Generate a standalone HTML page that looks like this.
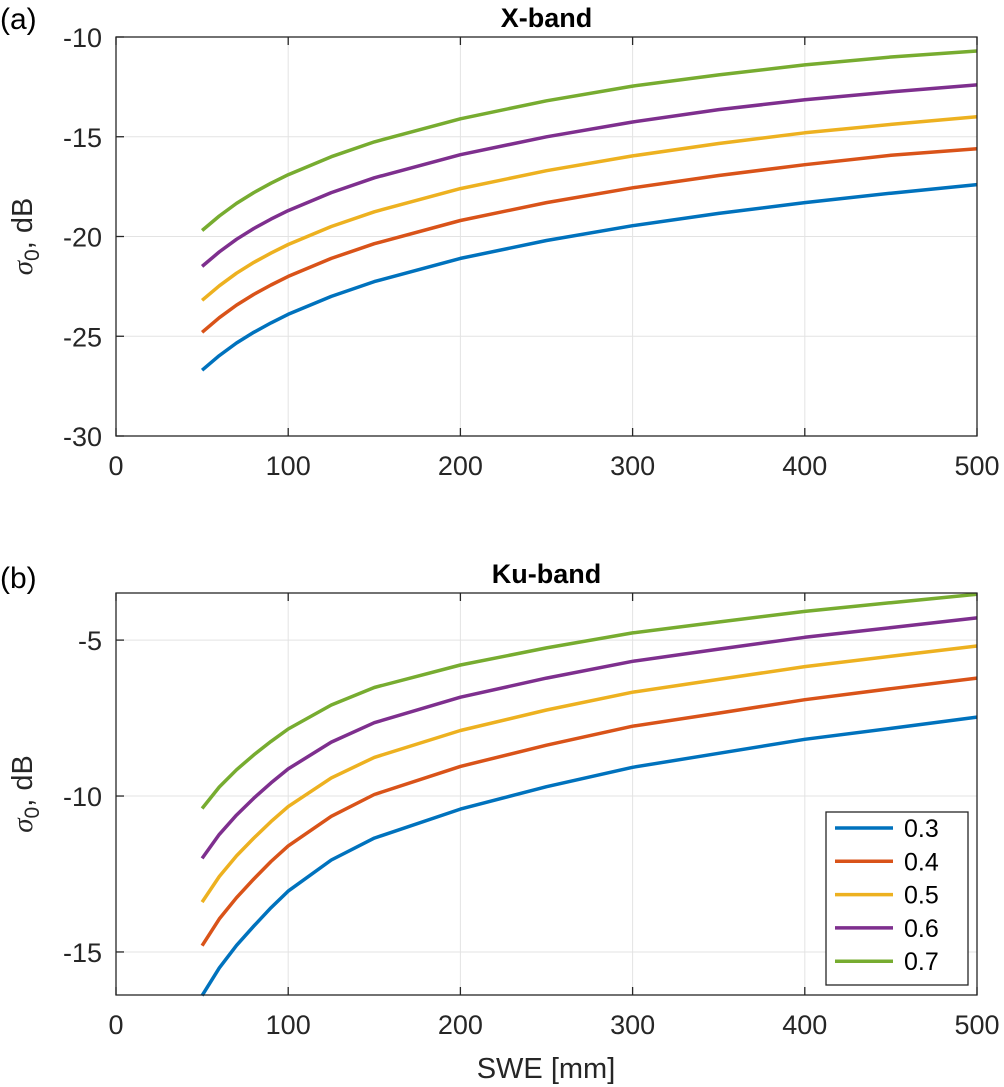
<!DOCTYPE html>
<html><head><meta charset="utf-8"><style>
body{margin:0;background:#fff}
svg{display:block;font-family:"Liberation Sans",Arial,sans-serif}
</style></head><body>
<svg id="c" width="1004" height="1087" viewBox="0 0 1004 1087"></svg>
<script>
const swe=[50,60,70,80,90,100,125,150,200,250,300,350,400,450,500];
const seriesNames=["0.3","0.4","0.5","0.6","0.7"];
const colors=["#0072BD","#D95319","#EDB120","#7E2F8E","#77AC30"];
const xband03=[-26.7,-25.97,-25.34,-24.8,-24.33,-23.9,-23.0,-22.26,-21.1,-20.2,-19.46,-18.84,-18.3,-17.83,-17.4];
const xband04=[-24.8,-24.07,-23.44,-22.9,-22.43,-22.0,-21.1,-20.36,-19.2,-18.3,-17.56,-16.94,-16.4,-15.93,-15.6];
const xband05=[-23.2,-22.47,-21.84,-21.3,-20.83,-20.4,-19.5,-18.76,-17.6,-16.7,-15.96,-15.34,-14.8,-14.38,-14.0];
const xband06=[-21.5,-20.77,-20.14,-19.6,-19.13,-18.7,-17.8,-17.06,-15.9,-15.0,-14.26,-13.64,-13.15,-12.75,-12.4];
const xband07=[-19.7,-18.97,-18.34,-17.8,-17.33,-16.9,-16.0,-15.26,-14.1,-13.2,-12.46,-11.9,-11.4,-11.0,-10.7];
const kuband03=[-16.4,-15.51,-14.79,-14.17,-13.58,-13.05,-12.05,-11.35,-10.42,-9.7,-9.08,-8.63,-8.18,-7.83,-7.47];
const kuband04=[-14.8,-13.94,-13.26,-12.66,-12.1,-11.6,-10.65,-9.95,-9.05,-8.37,-7.76,-7.34,-6.91,-6.56,-6.22];
const kuband05=[-13.4,-12.58,-11.92,-11.35,-10.82,-10.34,-9.42,-8.76,-7.9,-7.24,-6.67,-6.26,-5.85,-5.52,-5.19];
const kuband06=[-12.0,-11.23,-10.61,-10.07,-9.58,-9.13,-8.27,-7.65,-6.83,-6.22,-5.68,-5.29,-4.91,-4.6,-4.29];
const kuband07=[-10.4,-9.71,-9.16,-8.68,-8.25,-7.85,-7.08,-6.52,-5.8,-5.25,-4.77,-4.42,-4.08,-3.8,-3.53];
const xTicks=[0,100,200,300,400,500];
const yTicksX=[-30,-25,-20,-15,-10];
const yTicksKu=[-15,-10,-5];

const svg=document.getElementById('c');
const NS='http://www.w3.org/2000/svg';
function mk(tag,attrs,parent){const e=document.createElementNS(NS,tag);for(const k in attrs)e.setAttribute(k,attrs[k]);(parent||svg).appendChild(e);return e;}

function panel(o){
  const g=mk('g',{});
  
  
  const L=116,R=977,T=o.top,B=o.bottom;
  const sx=v=>L+(v-0)/(500-0)*(R-L);
  const sy=v=>B-(v-o.ymin)/(o.ymax-o.ymin)*(B-T);
  xTicks.forEach(t=>{const l=mk('line',{x1:sx(t),x2:sx(t),y1:T,y2:B,stroke:'#e3e3e3','stroke-width':1},g);
    });
  o.yticks.forEach(t=>{const l=mk('line',{x1:L,x2:R,y1:sy(t),y2:sy(t),stroke:'#e3e3e3','stroke-width':1},g);
    });
  o.series.forEach((s,i)=>{
    const p=mk('polyline',{points:s.map((v,j)=>sx(swe[j]).toFixed(1)+','+sy(v).toFixed(1)).join(' '),fill:'none',stroke:colors[i],'stroke-width':3.5,'stroke-linejoin':'round'},g);
    
    
  });
  const bx=mk('rect',{x:L,y:T,width:R-L,height:B-T,fill:'none',stroke:'#262626','stroke-width':1.3},g);
  
  xTicks.forEach(t=>{
    mk('line',{x1:sx(t),x2:sx(t),y1:B,y2:B-8,stroke:'#262626','stroke-width':1.3},g);
    mk('line',{x1:sx(t),x2:sx(t),y1:T,y2:T+8,stroke:'#262626','stroke-width':1.3},g);
    const tx=mk('text',{x:sx(t),y:B+39,'font-size':27,'text-anchor':'middle',fill:'#262626'},g);
    tx.textContent=t;
  });
  o.yticks.forEach(t=>{
    mk('line',{x1:L,x2:L+8,y1:sy(t),y2:sy(t),stroke:'#262626','stroke-width':1.3},g);
    const tx=mk('text',{x:L-14,y:sy(t)+10,'font-size':27,'text-anchor':'end',fill:'#262626'},g);
    tx.textContent=t;
  });
  const ti=mk('text',{x:(L+R)/2,y:T-10,'font-size':27,'font-weight':'bold','text-anchor':'middle',fill:'#000'},g);
  ti.textContent=o.title;
  const lb=mk('text',{x:0,y:o.labelY,'font-size':30,fill:'#000'},g);
  lb.textContent=o.label;
  const yl=mk('text',{transform:`translate(32,${(T+B)/2}) rotate(-90)`,'font-size':29,'text-anchor':'middle',fill:'#262626'},g);
  yl.innerHTML='<tspan font-family="Liberation Serif" font-style="italic">σ</tspan><tspan font-size="21" dy="7">0</tspan><tspan dy="-7">, dB</tspan>';
  
  return {g,sx,sy};
}
panel({name:'x-band-panel',top:37,bottom:436,ymin:-30,ymax:-10,yticks:yTicksX,title:'X-band',label:'(a)',labelY:29,
  series:[xband03,xband04,xband05,xband06,xband07]});
panel({name:'ku-band-panel',top:593,bottom:995,ymin:-16.38,ymax:-3.49,yticks:yTicksKu,title:'Ku-band',label:'(b)',labelY:588,
  series:[kuband03,kuband04,kuband05,kuband06,kuband07]});

const xl=mk('text',{x:546,y:1078,'font-size':29,'text-anchor':'middle',fill:'#262626'});
xl.textContent='SWE [mm]';



const lg=mk('g',{});


mk('rect',{x:826,y:812,width:142,height:173,fill:'#fff',stroke:'#262626','stroke-width':1.3},lg);
seriesNames.forEach((n,i)=>{
  const y=828+i*33.3;
  const e=mk('g',{},lg);
  
  
  mk('line',{x1:835,x2:893,y1:y,y2:y,stroke:colors[i],'stroke-width':3.5},e);
  const t=mk('text',{x:904,y:y+9,'font-size':25,fill:'#000'},e);
  t.textContent=n;
});
</script>
</body></html>
